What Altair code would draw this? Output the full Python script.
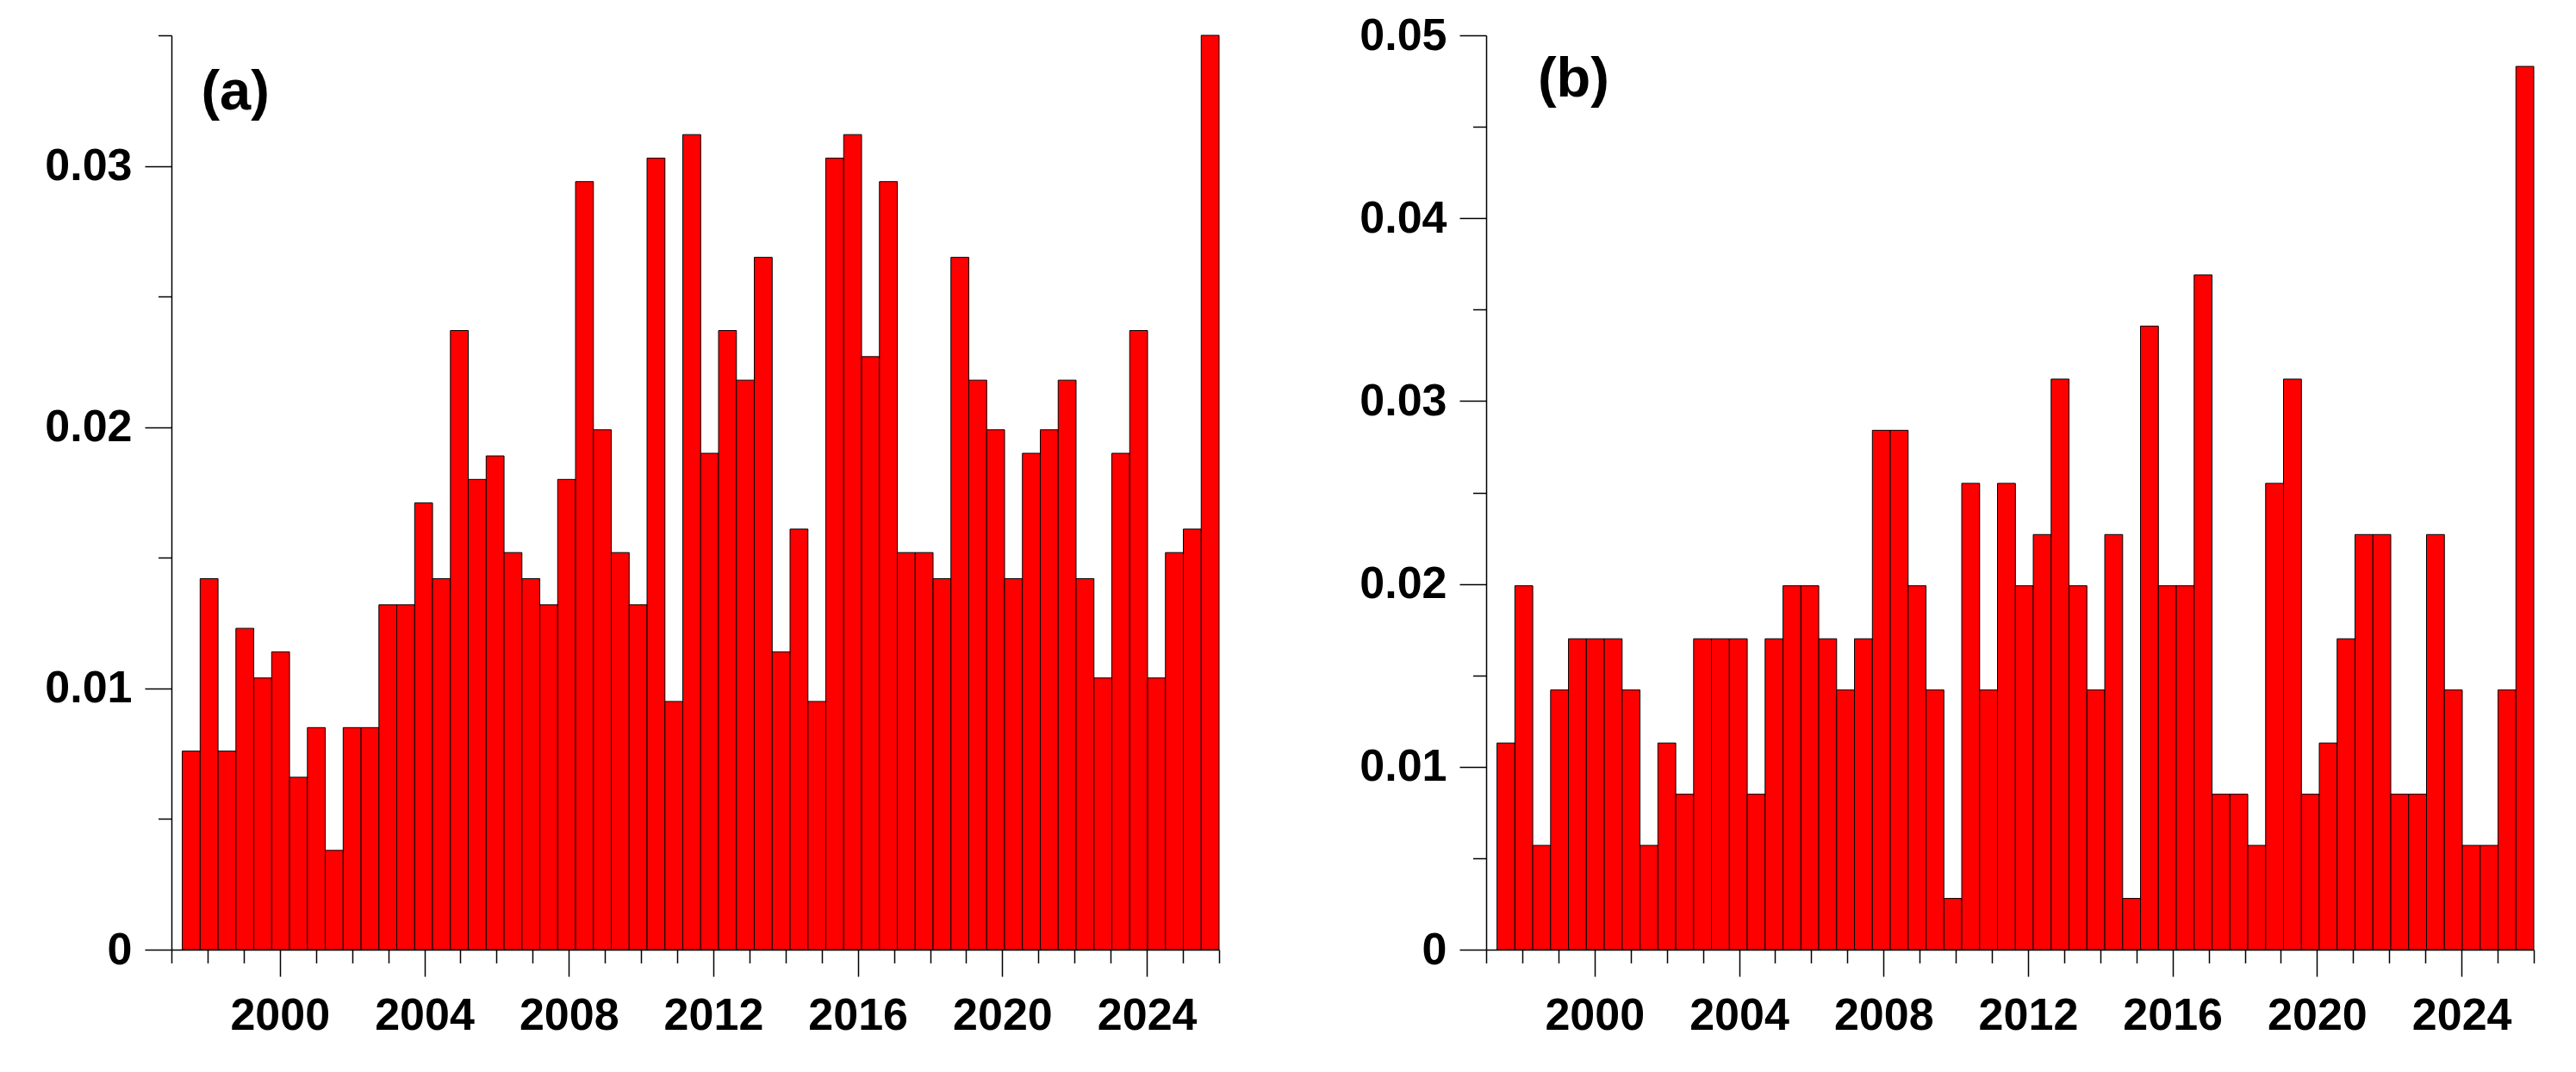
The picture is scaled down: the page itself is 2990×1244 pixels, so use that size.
import altair as alt
import pandas as pd

# ---- data ----
n_bins = 58
bin_first = 1997.3
bin_last_end = 2026.0
bin_width = (bin_last_end - bin_first) / n_bins
bin_start = [round(bin_first + i * bin_width, 4) for i in range(n_bins)]
bin_end = [round(bin_first + (i + 1) * bin_width, 4) for i in range(n_bins)]

vals_a = [0.0076, 0.0142, 0.0076, 0.0123, 0.0104, 0.0114, 0.0066, 0.0085, 0.0038, 0.0085,
          0.0085, 0.0132, 0.0132, 0.0171, 0.0142, 0.0237, 0.0180, 0.0189, 0.0152, 0.0142,
          0.0132, 0.0180, 0.0294, 0.0199, 0.0152, 0.0132, 0.0303, 0.0095, 0.0312, 0.0190,
          0.0237, 0.0218, 0.0265, 0.0114, 0.0161, 0.0095, 0.0303, 0.0312, 0.0227, 0.0294,
          0.0152, 0.0152, 0.0142, 0.0265, 0.0218, 0.0199, 0.0142, 0.0190, 0.0199, 0.0218,
          0.0142, 0.0104, 0.0190, 0.0237, 0.0104, 0.0152, 0.0161, 0.0350]

vals_b = [0.0113, 0.0199, 0.0057, 0.0142, 0.0170, 0.0170, 0.0170, 0.0142, 0.0057, 0.0113,
          0.0085, 0.0170, 0.0170, 0.0170, 0.0085, 0.0170, 0.0199, 0.0199, 0.0170, 0.0142,
          0.0170, 0.0284, 0.0284, 0.0199, 0.0142, 0.0028, 0.0255, 0.0142, 0.0255, 0.0199,
          0.0227, 0.0312, 0.0199, 0.0142, 0.0227, 0.0028, 0.0341, 0.0199, 0.0199, 0.0369,
          0.0085, 0.0085, 0.0057, 0.0255, 0.0312, 0.0085, 0.0113, 0.0170, 0.0227, 0.0227,
          0.0085, 0.0085, 0.0227, 0.0142, 0.0057, 0.0057, 0.0142, 0.0483]

x_ticks = list(range(1997, 2027))
y_ticks_a = [0, 0.005, 0.01, 0.015, 0.02, 0.025, 0.03, 0.035]
y_ticks_b = [0, 0.005, 0.01, 0.015, 0.02, 0.025, 0.03, 0.035, 0.04, 0.045, 0.05]

panel_labels = ["(a)", "(b)"]
label_x = [1997.82, 1998.43]
label_y = [0.03215, 0.04666]

FONT = "Liberation Sans"

x_axis = alt.Axis(
    values=x_ticks,
    tickSize={"condition": {"test": "datum.value % 4 === 0", "value": 31}, "value": 15.5},
    labelExpr="datum.value % 4 === 0 ? datum.label : ''",
    format="d",
    labelFont=FONT, labelFontSize=52, labelFontWeight="bold", labelColor="black",
    labelPadding=20, labelFlush=False, labelOverlap=False,
    domainColor="black", domainWidth=1.5, tickColor="black", tickWidth=1.5,
    grid=False, title=None,
)


def y_axis(vals):
    return alt.Axis(
        values=vals,
        tickSize={"condition": {"test": "round(datum.value*200) % 2 === 0", "value": 31}, "value": 15.5},
        labelExpr="round(datum.value*200) % 2 === 0 ? format(round(datum.value*100)/100, '~g') : ''",
        labelFont=FONT, labelFontSize=52, labelFontWeight="bold", labelColor="black",
        labelPadding=15, labelFlush=False, labelOverlap=False,
        domainColor="black", domainWidth=1.5, tickColor="black", tickWidth=1.5,
        grid=False, title=None,
    )


def panel(vals, ymax, yticks, idx):
    df = pd.DataFrame({"start": bin_start, "end": bin_end, "value": vals})
    xs = alt.Scale(domain=[1997, 2026], nice=False, zero=False)
    ys = alt.Scale(domain=[0, ymax], nice=False, zero=True)
    bars = alt.Chart(df).mark_bar(color="#FF0000", stroke="black", strokeWidth=1).encode(
        x=alt.X("start:Q", scale=xs, axis=x_axis),
        x2="end:Q",
        y=alt.Y("value:Q", scale=ys, axis=y_axis(yticks)),
        y2=alt.datum(0),
    )
    tdf = pd.DataFrame({"x": [label_x[idx]], "y": [label_y[idx]], "t": [panel_labels[idx]]})
    text = alt.Chart(tdf).mark_text(
        font=FONT, fontSize=65, fontWeight="bold", align="left", baseline="alphabetic", color="black"
    ).encode(
        x=alt.X("x:Q", scale=xs, axis=x_axis),
        y=alt.Y("y:Q", scale=ys, axis=y_axis(yticks)),
        text="t:N",
    )
    return alt.layer(bars, text).properties(width=1216, height=1061)


pa = panel(vals_a, 0.035, y_ticks_a, 0)
pb = panel(vals_b, 0.05, y_ticks_b, 1)

chart = alt.hconcat(pa, pb, spacing=161).properties(
    padding={"left": 43, "top": 7, "right": 5, "bottom": 5}
).configure_view(stroke=None)

chart.save("out.html", embed_options={"renderer": "svg", "actions": False})
